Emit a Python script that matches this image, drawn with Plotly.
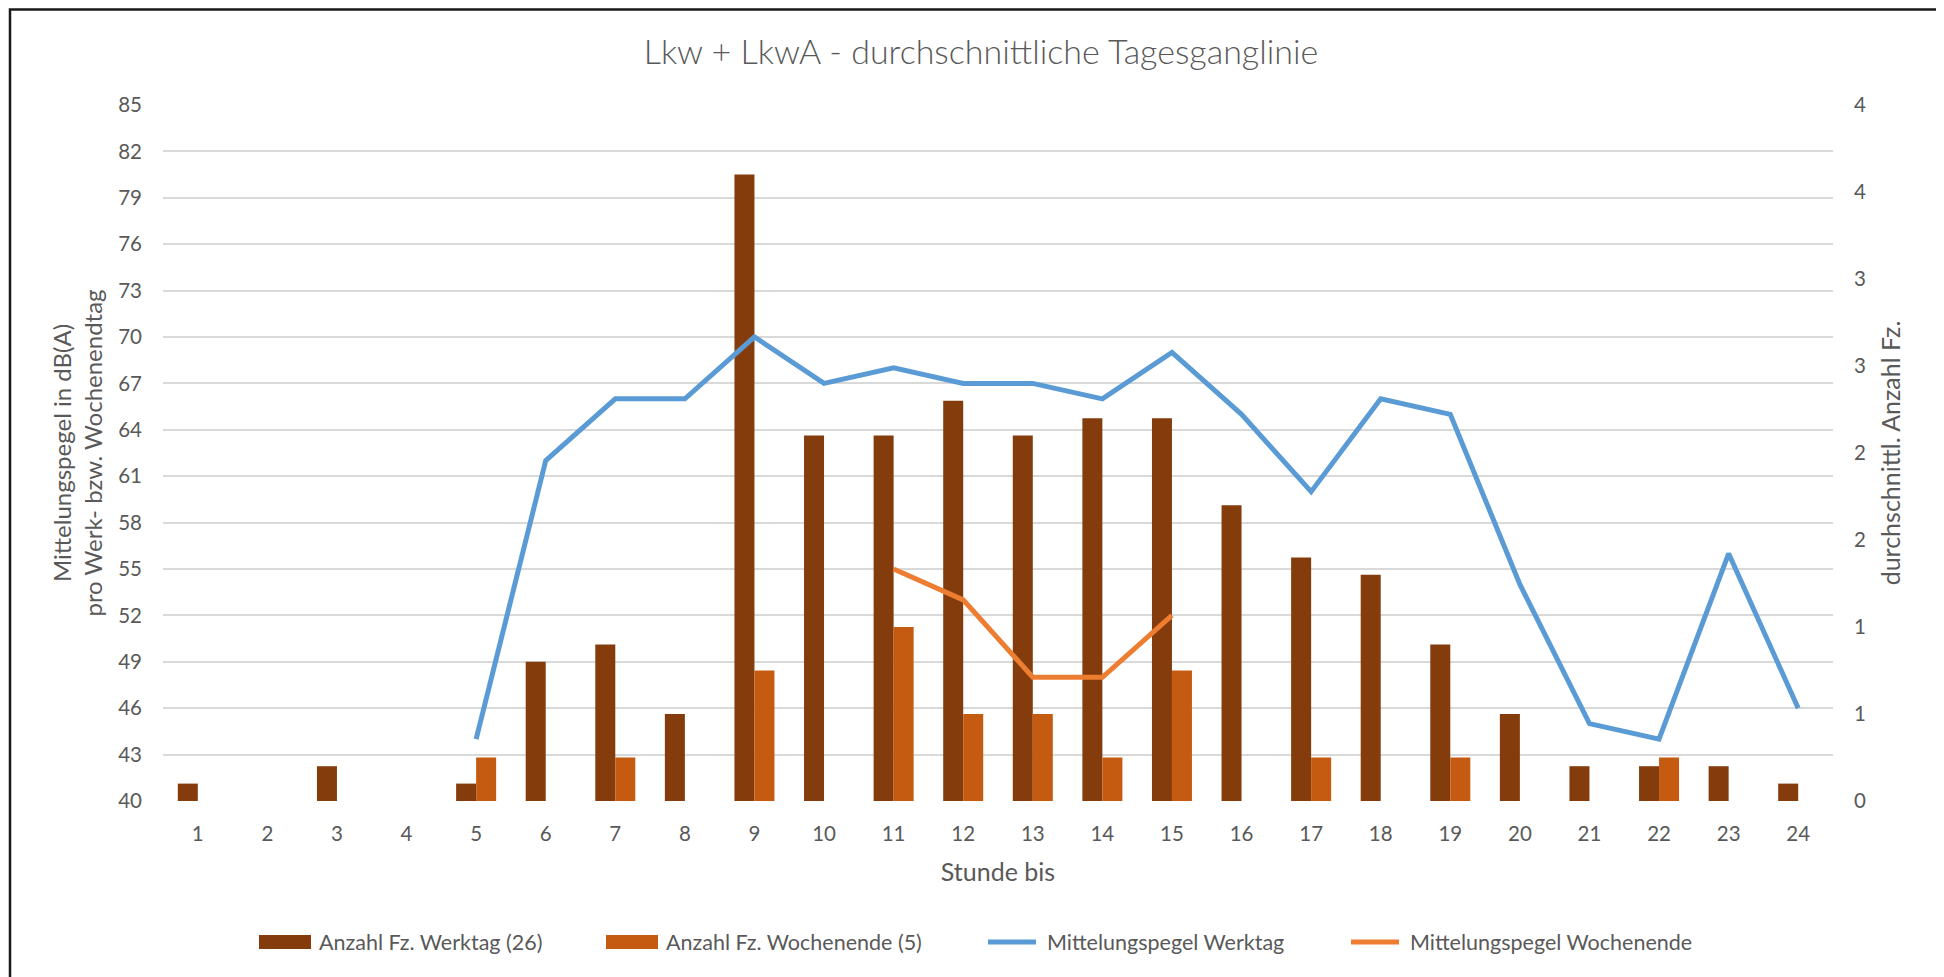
import plotly.graph_objects as go

# ---------------- data ----------------
hours = [str(h) for h in range(1, 25)]
anzahl_werktag = [0.1, 0, 0.2, 0, 0.1, 0.8, 0.9, 0.5, 3.6, 2.1, 2.1, 2.3,
                  2.1, 2.2, 2.2, 1.7, 1.4, 1.3, 0.9, 0.5, 0.2, 0.2, 0.2, 0.1]
anzahl_wochenende = [0, 0, 0, 0, 0.25, 0, 0.25, 0, 0.75, 0, 1.0, 0.5,
                     0.5, 0.25, 0.75, 0, 0.25, 0, 0.25, 0, 0, 0.25, 0, 0]
pegel_werktag = [None, None, None, None, 44, 62, 66, 66, 70, 67, 68, 67,
                 67, 66, 69, 65, 60, 66, 65, 54, 45, 44, 56, 46]
pegel_wochenende = [None] * 10 + [55, 53, 48, 48, 52] + [None] * 9

count_tickvals = [0, 0.5, 1, 1.5, 2, 2.5, 3, 3.5, 4]
count_ticktext = ["0", "1", "1", "2", "2", "3", "3", "4", "4"]

names = ["Anzahl Fz. Werktag (26)", "Anzahl Fz. Wochenende (5)",
         "Mittelungspegel Werktag", "Mittelungspegel Wochenende"]
colors = ["#843C0C", "#C55A11", "#5B9BD5", "#ED7D31"]

# ---------------- layout geometry ----------------
W, H = 1944, 977
OFF = 8  # page body margin
PL, PR, PT, PB = 163 - OFF, 1833 - OFF, 105 - OFF, 801 - OFF
FONT = "Lato, Calibri, Arial, sans-serif"
TXT = "#595959"


def px(x):
    return (x - OFF - PL) / (PR - PL)


def py(y):
    return (PB - (y - OFF)) / (PB - PT)


fig = go.Figure()
fig.add_trace(go.Bar(x=hours, y=anzahl_werktag, name=names[0],
                     marker=dict(color=colors[0], line=dict(width=0)),
                     yaxis="y", showlegend=False))
fig.add_trace(go.Bar(x=hours, y=anzahl_wochenende, name=names[1],
                     marker=dict(color=colors[1], line=dict(width=0)),
                     yaxis="y", showlegend=False))
fig.add_trace(go.Scatter(x=hours, y=pegel_werktag, name=names[2], mode="lines",
                         line=dict(color=colors[2], width=5),
                         yaxis="y2", showlegend=False))
fig.add_trace(go.Scatter(x=hours, y=pegel_wochenende, name=names[3], mode="lines",
                         line=dict(color=colors[3], width=5),
                         yaxis="y2", showlegend=False))

shapes = []
annotations = []

# outer chart border
shapes.append(dict(type="rect", xref="paper", yref="paper",
                   x0=px(10), x1=px(1941), y0=py(1000), y1=py(OFF + 1.5),
                   line=dict(color="#1a1a1a", width=2.5), layer="above"))

# custom legend (Excel style)
leg_y = 942
leg_items = [
    ("box", 259, 311, 317),
    ("box", 606, 658, 664),
    ("line", 986, 1038, 1045),
    ("line", 1349, 1401, 1408),
]
for (kind, x0, x1, tx), name, col in zip(leg_items, names, colors):
    if kind == "box":
        shapes.append(dict(type="rect", xref="paper", yref="paper",
                           x0=px(x0), x1=px(x1), y0=py(leg_y + 7), y1=py(leg_y - 7),
                           fillcolor=col, line=dict(width=0)))
    else:
        shapes.append(dict(type="line", xref="paper", yref="paper",
                           x0=px(x0 + 2), x1=px(x1 - 2), y0=py(leg_y), y1=py(leg_y),
                           line=dict(color=col, width=5)))
    annotations.append(dict(xref="paper", yref="paper", x=px(tx), y=py(leg_y),
                            xanchor="left", yanchor="middle", showarrow=False,
                            text=name, font=dict(family=FONT, size=21.5, color=TXT)))

fig.update_layout(
    width=W, height=H,
    margin=dict(l=PL, r=W - PR, t=PT, b=H - PB, autoexpand=False),
    paper_bgcolor="white", plot_bgcolor="white",
    font=dict(family=FONT, size=20, color=TXT),
    title=dict(text="Lkw + LkwA - durchschnittliche Tagesganglinie",
               x=(981 - OFF) / W, xref="container", xanchor="center",
               y=1 - (52 - OFF) / H, yref="container", yanchor="middle",
               font=dict(family=FONT, size=34, color=TXT, weight=300)),
    barmode="group", bargap=0.425, bargroupgap=0,
    xaxis=dict(type="category", showgrid=False, zeroline=False, showline=False,
               ticks="", ticklabelstandoff=18,
               tickfont=dict(size=20.5, color=TXT),
               title=dict(text="Stunde bis", standoff=19,
                          font=dict(size=25, color=TXT))),
    yaxis=dict(side="right", range=[0, 4], tickvals=count_tickvals,
               ticktext=count_ticktext, showgrid=False, zeroline=False,
               showline=False, ticks="", ticklabelstandoff=20,
               tickfont=dict(size=20.5, color=TXT),
               title=dict(text="durchschnittl. Anzahl Fz.", standoff=17,
                          font=dict(size=25, color=TXT))),
    yaxis2=dict(overlaying="y", side="left", range=[40, 85], tick0=40, dtick=3,
                showgrid=True, gridcolor="#D9D9D9", gridwidth=1.5,
                zeroline=False, showline=False, ticks="", ticklabelstandoff=20,
                tickfont=dict(size=20.5, color=TXT),
                title=dict(text="Mittelungspegel in dB(A)<br>pro Werk- bzw. Wochenendtag",
                           standoff=8, font=dict(size=24, color=TXT))),
    shapes=shapes,
    annotations=annotations,
)

fig.write_html("out.html")
